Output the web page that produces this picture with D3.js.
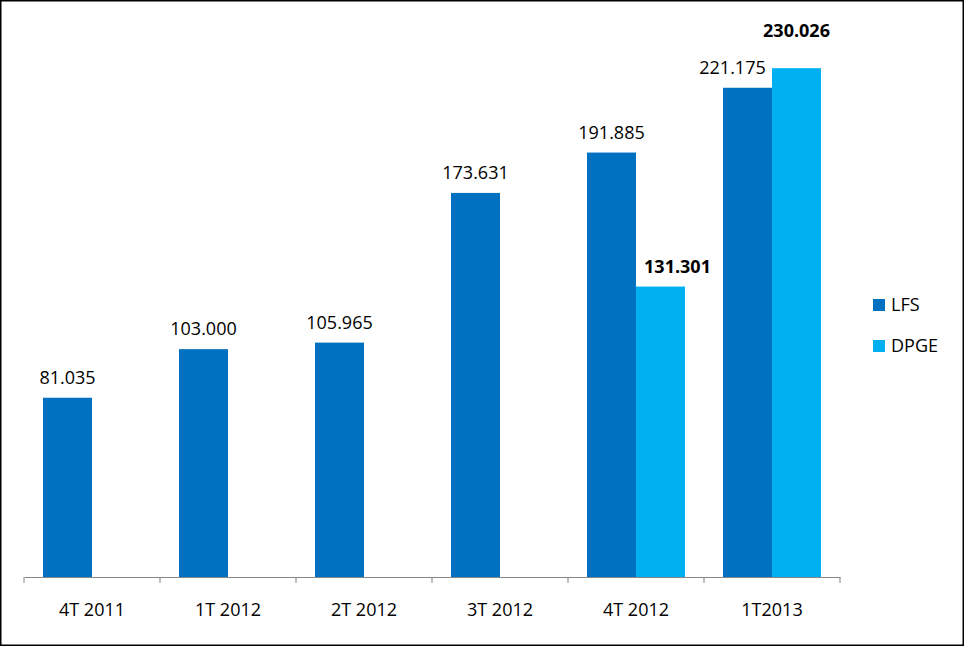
<!DOCTYPE html>
<html><head><meta charset="utf-8">
<script src="https://cdn.jsdelivr.net/npm/d3@7"></script>
<style>html,body{margin:0;padding:0;background:#fff}</style>
</head><body>
<script>
const categories = ["4T 2011","1T 2012","2T 2012","3T 2012","4T 2012","1T2013"];
const seriesNames = ["LFS","DPGE"];
const lfsValues = [81.035,103.000,105.965,173.631,191.885,221.175];
const dpgeValues = [null,null,null,null,131.301,230.026];
const colors = ["#0070C0","#00B0F0"];

const W=964,H=646;
const svg=d3.select("body").append("svg").attr("width",W).attr("height",H);
svg.append("rect").attr("x",0.75).attr("y",0.75).attr("width",W-1.5).attr("height",H-1.5)
  .attr("fill","#fff").attr("stroke","#000").attr("stroke-width",1.5);

const font="'Open Sans', sans-serif";
const fs=18;
const x=d3.scaleBand().domain(categories).range([24,840]);
const y=d3.scaleLinear().domain([0,250]).range([577,24]);
const barW=49;
const sub=d3.scaleBand().domain(seriesNames).range([0,barW*2]);

// manual label nudges (layout only), keyed "series|category"
const labelNudge={"DPGE|4T 2012":{dx:17,dy:0},"LFS|1T2013":{dx:-15,dy:0},"DPGE|1T2013":{dx:0,dy:-37}};

const data=[lfsValues,dpgeValues];
const g=svg.append("g");
data.forEach((vals,si)=>{
  vals.forEach((v,i)=>{
    if(v==null) return;
    const c=categories[i];
    const x0=x(c)+x.bandwidth()/2-barW+sub(seriesNames[si]);
    g.append("rect").attr("x",x0).attr("y",y(v)).attr("width",barW).attr("height",y(0)-y(v)).attr("fill",colors[si]);
  });
});
const lfsLabelY={};
data.forEach((vals,si)=>{
  vals.forEach((v,i)=>{
    if(v==null) return;
    const c=categories[i];
    const key=seriesNames[si]+"|"+c;
    const n=labelNudge[key]||{dx:0,dy:0};
    const cx=x(c)+x.bandwidth()/2-barW+sub(seriesNames[si])+barW/2+n.dx;
    let ly=y(v)-14+n.dy;
    if(si===1 && n.dy!==0 && lfsLabelY[i]!==undefined) ly=lfsLabelY[i]+n.dy;
    if(si===0) lfsLabelY[i]=ly;
    g.append("text").attr("x",cx).attr("y",ly).attr("text-anchor","middle")
      .attr("font-family",font).attr("font-size",fs).attr("font-weight",si===1?"bold":"normal")
      .attr("fill","#000").text(d3.format(".3f")(v));
  });
});

// axis
const ax=svg.append("g").attr("transform","translate(0,577)")
  .call(d3.axisBottom(x).tickSizeOuter(0).tickSize(0).tickFormat(""));
ax.select(".domain").attr("stroke","#868686");
const tickPos=categories.map(c=>x(c)).concat([x(categories[categories.length-1])+x.bandwidth()]);
svg.selectAll(".tk").data(tickPos).enter().append("line")
  .attr("x1",d=>d).attr("x2",d=>d).attr("y1",577).attr("y2",583).attr("stroke","#868686");
svg.selectAll(".xl").data(categories).enter().append("text")
  .attr("x",d=>x(d)+x.bandwidth()/2).attr("y",616).attr("text-anchor","middle")
  .attr("font-family",font).attr("font-size",fs).attr("fill","#000").text(d=>d);

// legend
const leg=svg.append("g");
seriesNames.forEach((s,i)=>{
  leg.append("rect").attr("x",873).attr("y",299+i*41).attr("width",12).attr("height",12).attr("fill",colors[i]);
  leg.append("text").attr("x",891).attr("y",311+i*41).attr("font-family",font).attr("font-size",fs).attr("fill","#000").text(s);
});
</script>
</body></html>
